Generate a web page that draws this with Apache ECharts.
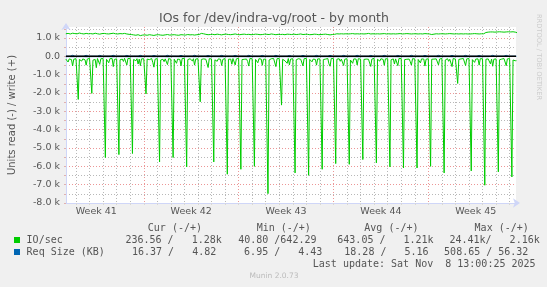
<!DOCTYPE html>
<html><head><meta charset="utf-8">
<script src="https://cdn.jsdelivr.net/npm/echarts@6/dist/echarts.min.js"></script>
<style>html,body{margin:0;padding:0;background:#f0f0f0;}#c{width:547px;height:287px;}</style>
</head><body><div id="c"></div>
<script>
// ---- axis / tick data (x in days since Sun 2025-10-05 00:00) ----
const xMin = 1.262, xMax = 34.47;
const dayGrid = [2,3,4,5,6,7,8,9,10,11,12,13,14,15,16,17,18,19,20,21,22,23,24,25,26,27,28,29,30,31,32,33,34];
const weekCenters = [3.5, 10.5, 17.5, 24.5, 31.5];
const weekLabels = ['Week 41', 'Week 42', 'Week 43', 'Week 44', 'Week 45'];
const yGrid = [-8000,-7500,-7000,-6500,-6000,-5500,-5000,-4500,-4000,-3500,-3000,-2500,-2000,-1500,-1000,-500,0,500,1000,1500];
const yLabels = [-8000,-7000,-6000,-5000,-4000,-3000,-2000,-1000,0,1000];

// ---- IO/sec read (negative), 2h samples from Mon Oct 6 06:00 ----
const readStart = 1.25;
const ioRead = [
 [-150,-120,-310,-140,-110,-180,-520,-160,-130],
 [-130,-160,-2350,-170,-120,-260,-140,-110,-190,-480,-150,-120],
 [-110,-140,-2020,-210,-130,-170,-620,-120,-160,-440,-130,-150],
 [-120,-180,-5520,-160,-140,-350,-130,-150,-120,-560,-170,-110],
 [-140,-120,-5360,-190,-130,-150,-280,-110,-140,-470,-120,-160],
 [-110,-150,-5300,-170,-120,-240,-130,-420,-150,-510,-140,-120],
 [-130,-170,-2050,-150,-110,-180,-140,-120,-330,-590,-160,-130],
 [-120,-140,-5760,-200,-130,-160,-290,-140,-110,-450,-130,-150],
 [-150,-130,-5520,-160,-120,-380,-150,-130,-170,-520,-120,-110],
 [-110,-160,-6030,-180,-140,-130,-160,-250,-130,-480,-150,-140],
 [-130,-120,-2480,-170,-150,-140,-120,-160,-140,-610,-130,-120],
 [-140,-150,-5760,-190,-120,-270,-140,-110,-160,-500,-170,-130],
 [-120,-130,-6430,-160,-140,-150,-430,-120,-130,-470,-140,-150],
 [-110,-170,-6160,-180,-130,-160,-140,-150,-280,-530,-120,-110],
 [-130,-140,-6000,-170,-120,-350,-130,-140,-150,-490,-160,-130],
 [-150,-120,-7490,-200,-140,-130,-160,-120,-140,-560,-130,-120],
 [-120,-150,-2660,-160,-130,-240,-140,-380,-120,-470,-150,-140],
 [-130,-140,-6360,-190,-150,-130,-120,-160,-140,-520,-130,-110],
 [-110,-160,-6490,-170,-120,-300,-150,-130,-170,-480,-140,-130],
 [-140,-130,-6160,-180,-130,-150,-140,-120,-410,-540,-120,-150],
 [-120,-150,-5850,-160,-140,-130,-270,-150,-130,-500,-160,-120],
 [-130,-120,-5890,-200,-120,-380,-140,-130,-150,-470,-130,-140],
 [-150,-140,-5630,-170,-130,-150,-120,-160,-140,-550,-150,-120],
 [-110,-170,-5810,-160,-150,-260,-130,-120,-170,-490,-140,-130],
 [-130,-140,-6030,-190,-120,-140,-420,-140,-130,-510,-120,-150],
 [-120,-150,-6090,-180,-140,-160,-130,-150,-290,-480,-130,-120],
 [-140,-130,-6090,-170,-130,-360,-140,-120,-150,-530,-160,-140],
 [-130,-160,-6000,-160,-120,-150,-130,-140,-130,-470,-150,-130],
 [-110,-140,-6360,-200,-150,-130,-270,-160,-140,-560,-120,-150],
 [-150,-130,-1480,-170,-130,-140,-130,-120,-160,-500,-140,-120],
 [-120,-150,-6250,-180,-140,-330,-150,-130,-140,-480,-130,-140],
 [-130,-140,-7030,-160,-120,-140,-130,-410,-150,-540,-160,-130],
 [-140,-130,-6300,-190,-130,-150,-140,-120,-130,-510,-140,-150],
 [-120,-160,-6580,-200,-190,-240,-236]
];
// ---- IO/sec write (positive), 4h samples from Mon Oct 6 06:00 ----
const writeStart = 1.25;
const ioWrite = [
 1230,1250,1220,1260,1240,
 1230,1270,1240,1220,1250,1230, 1240,1220,1260,1230,1210,1240,
 1250,1230,1220,1240,1260,1230, 1220,1240,1230,1250,1220,1200,
 1190,1170,1150,1180,1130,1160, 1170,1150,1180,1160,1140,1170,
 1180,1160,1150,1170,1190,1160, 1170,1180,1160,1150,1180,1170,
 1160,1190,1170,1180,1160,1180, 1190,1250,1230,1200,1180,1190,
 1200,1180,1210,1190,1170,1200, 1210,1190,1180,1200,1220,1190,
 1180,1200,1210,1190,1200,1180, 1190,1210,1200,1180,1190,1210,
 1200,1190,1220,1200,1180,1200, 1190,1200,1180,1210,1200,1190,
 1210,1190,1200,1220,1190,1200, 1200,1180,1190,1210,1200,1180,
 1190,1200,1210,1190,1170,1190, 1200,1230,1220,1230,1220,1230,
 1220,1230,1240,1220,1230,1220, 1230,1220,1230,1250,1220,1230,
 1220,1230,1220,1230,1240,1220, 1230,1220,1230,1220,1230,1240,
 1220,1230,1240,1230,1220,1230, 1230,1220,1230,1220,1240,1230,
 1220,1190,1210,1230,1220,1230, 1230,1220,1230,1240,1230,1220,
 1230,1220,1230,1220,1230,1220, 1220,1230,1240,1230,1220,1230,
 1230,1300,1320,1330,1330,1320, 1330,1340,1330,1320,1330,1340,
 1330,1340,1320,1280
];
// ---- Req Size (KB) write (positive), 2h samples from Mon Oct 6 06:00 ----
const reqWrite = [
 [5,4,5,6,5,4,56,8,5],
 [5,4,6,5,5,4,5,5,6,54,7,5],[4,5,5,6,4,5,5,4,5,52,6,5],[5,4,6,5,5,5,4,5,6,55,7,4],
 [5,5,4,6,5,4,5,5,5,50,6,5],[4,5,6,5,5,4,5,6,5,53,7,5],[5,4,5,5,6,5,4,5,5,48,6,5],
 [5,5,6,4,5,5,5,4,6,54,7,5],[4,5,5,6,5,4,5,5,5,51,6,4],[5,4,6,5,5,5,4,5,6,55,7,5],
 [5,5,4,5,6,4,5,5,5,49,6,5],[4,5,6,5,5,5,4,6,5,53,7,5],[5,4,5,6,5,4,5,5,5,52,6,5],
 [5,5,6,5,4,5,5,4,6,56,7,5],[4,5,5,6,5,4,5,5,5,50,6,4],[5,4,6,5,5,5,4,5,6,54,7,5],
 [5,5,4,5,6,4,5,5,5,48,6,5],[4,5,6,5,5,5,4,6,5,53,7,5],[5,4,5,6,5,4,5,5,5,51,6,5],
 [5,5,6,4,5,5,5,4,6,55,7,5],[4,5,5,6,5,4,5,5,5,52,6,4],[5,4,6,5,5,5,4,5,6,54,7,5],
 [5,5,4,5,6,4,5,5,5,50,6,5],[4,5,6,5,5,5,4,6,5,53,7,5],[5,4,5,6,5,4,5,5,5,49,6,5],
 [5,5,6,4,5,5,5,4,6,55,7,5],[4,5,5,6,5,4,5,5,5,52,6,4],[5,4,6,5,5,5,4,5,6,54,7,5],
 [5,5,4,5,6,4,5,5,5,51,6,5],[4,5,6,5,5,5,4,6,5,53,7,5],[5,4,5,6,5,4,5,5,5,50,6,5],
 [5,5,6,4,5,5,5,4,6,55,7,5],[4,5,5,6,5,4,5,5,5,52,6,4],
 [5,4,6,5,5,4,5]
];
// ---- Req Size (KB) read (negative), 6h samples from Mon Oct 6 06:00 ----
const reqReadStart = 1.25;
const reqRead = [
 -17,-18,-22,
 -16,-19,-17,-24, -18,-17,-16,-23, -17,-19,-18,-25, -16,-18,-17,-22,
 -18,-17,-19,-24, -17,-16,-18,-23, -19,-18,-17,-25, -16,-17,-18,-22,
 -18,-19,-17,-24, -17,-18,-16,-23, -16,-17,-19,-25, -18,-16,-17,-22,
 -17,-18,-19,-24, -19,-17,-18,-23, -16,-18,-17,-25, -18,-19,-16,-22,
 -17,-16,-18,-24, -18,-17,-19,-23, -16,-19,-17,-25, -17,-18,-18,-22,
 -19,-17,-16,-24, -18,-16,-17,-23, -17,-18,-19,-25, -16,-17,-18,-22,
 -18,-19,-17,-24, -17,-18,-16,-23, -19,-16,-18,-25, -18,-17,-17,-22,
 -16,-18,-19,-24, -17,-19,-18,-23,
 -18,-17,-16
];

// legend / text content
const title = 'IOs for /dev/indra-vg/root - by month';
const yName = 'Units read (-) / write (+)';
const legendHeaders = ['Cur (-/+)', 'Min (-/+)', 'Avg (-/+)', 'Max (-/+)'];
const ioLabel = 'IO/sec';
const ioStats = ['236.56 /   1.28k', '40.80 /642.29', '643.05 /   1.21k', '24.41k/   2.16k'];
const reqLabel = 'Req Size (KB)';
const reqStats = ['16.37 /   4.82', '6.95 /   4.43', '18.28 /   5.16', '508.65 / 56.32'];
const lastUpdate = 'Last update: Sat Nov  8 13:00:25 2025';
const footer = 'Munin 2.0.73';
const watermark = 'RRDTOOL / TOBI OETIKER';

// ---- build series data ----
const h2 = 2 / 24, h4 = 4 / 24, h6 = 6 / 24;
const readData = ioRead.flat().map((v, i) => [readStart + i * h2, v]);
const writeData = ioWrite.map((v, i) => [writeStart + i * h4, v]);
const reqWriteData = reqWrite.flat().map((v, i) => [readStart + i * h2, v]);
const reqReadData = reqRead.map((v, i) => [reqReadStart + i * h6, v]);

const GREEN = '#00cc00', BLUE = '#0066b3';
const MAJOR = 'rgba(230,115,115,0.75)', MINOR = 'rgba(160,160,160,0.75)';
const AXIS = '#CFD6F8';
const FONT = '"DejaVu Sans", sans-serif';
const MONO = '"DejaVu Sans Mono", monospace';

function line(data, color, w) {
  return { type: 'line', data, showSymbol: false, symbol: 'none', animation: false,
    lineStyle: { color, width: w }, itemStyle: { color }, emphasis: { disabled: true } };
}

function txt(text, x, y, opts) {
  return Object.assign({ type: 'text', x, y, silent: true,
    style: Object.assign({ text, font: '10px ' + MONO, fill: '#555', align: 'left', verticalAlign: 'middle' }, opts && opts.style || {}) },
    opts && opts.rotation !== undefined ? { rotation: opts.rotation } : {});
}

const chart = echarts.init(document.getElementById('c'), null, { renderer: 'canvas' });
chart.setOption({
  backgroundColor: '#f0f0f0',
  animation: false,
  grid: { left: 66, top: 27, width: 450, height: 176, show: true, backgroundColor: '#ffffff', borderWidth: 0 },
  xAxis: {
    type: 'value', min: xMin, max: xMax,
    axisLine: { show: true, onZero: false, lineStyle: { color: AXIS, width: 1 }, symbol: ['none', 'arrow'], symbolSize: [7, 7], symbolOffset: [0, 4] },
    axisTick: { show: true, length: 2, customValues: dayGrid, lineStyle: { color: '#d8d8d8' } },
    axisLabel: { customValues: weekCenters, formatter: v => weekLabels[weekCenters.indexOf(v)] || '',
      color: '#555', fontFamily: FONT, fontSize: 9.5, margin: 4 },
    splitLine: { show: true, lineStyle: { color: [MINOR, MINOR, MINOR, MINOR, MINOR, MAJOR, MINOR], type: [1, 2], width: 1 } }
  },
  yAxis: {
    type: 'value', min: -8000, max: 1600,
    axisLine: { show: true, onZero: false, lineStyle: { color: AXIS, width: 1 }, symbol: ['none', 'arrow'], symbolSize: [7, 7], symbolOffset: [0, 4] },
    axisTick: { show: true, length: 2, customValues: yGrid, lineStyle: { color: '#e0b0b0' } },
    axisLabel: { customValues: yLabels, formatter: v => v === 0 ? '0.0' : (v / 1000).toFixed(1) + ' k',
      color: '#555', fontFamily: FONT, fontSize: 9.5, margin: 6 },
    splitLine: { show: true, lineStyle: { color: [MAJOR, MINOR], type: [1, 2], width: 1 } }
  },
  series: [
    line(readData, GREEN, 1),
    line(writeData, GREEN, 1),
    line(reqReadData, BLUE, 1),
    line(reqWriteData, BLUE, 1),
    line([[xMin, 0], [xMax, 0]], '#000000', 1.5)
  ],
  graphic: [
    txt(title, 274, 19, { style: { font: '12.5px ' + FONT, align: 'center', fill: '#555' } }),
    txt(yName, 12, 115, { rotation: Math.PI / 2, style: { font: '10px ' + FONT, align: 'center', fill: '#555' } }),
    txt(watermark, 539, 57, { rotation: -Math.PI / 2, style: { font: '6.7px ' + FONT, align: 'center', fill: '#cccccc' } }),
    txt(legendHeaders[0], 147.8, 228), txt(legendHeaders[1], 256.7, 228),
    txt(legendHeaders[2], 364.3, 228), txt(legendHeaders[3], 474.6, 228),
    { type: 'rect', shape: { x: 14, y: 237, width: 6, height: 6 }, style: { fill: GREEN }, silent: true },
    txt(ioLabel, 26.6, 240),
    txt(ioStats[0], 125.4, 240), txt(ioStats[1], 238.2, 240), txt(ioStats[2], 337.3, 240), txt(ioStats[3], 449.4, 240),
    { type: 'rect', shape: { x: 14, y: 249, width: 6, height: 6 }, style: { fill: BLUE }, silent: true },
    txt(reqLabel, 26.6, 252),
    txt(reqStats[0], 132.0, 252), txt(reqStats[1], 244.1, 252), txt(reqStats[2], 344.3, 252), txt(reqStats[3], 444.1, 252),
    txt(lastUpdate, 312.8, 264),
    txt(footer, 274, 276, { style: { font: '7.5px ' + FONT, align: 'center', fill: '#bbbbbb' } })
  ]
});
</script></body></html>
